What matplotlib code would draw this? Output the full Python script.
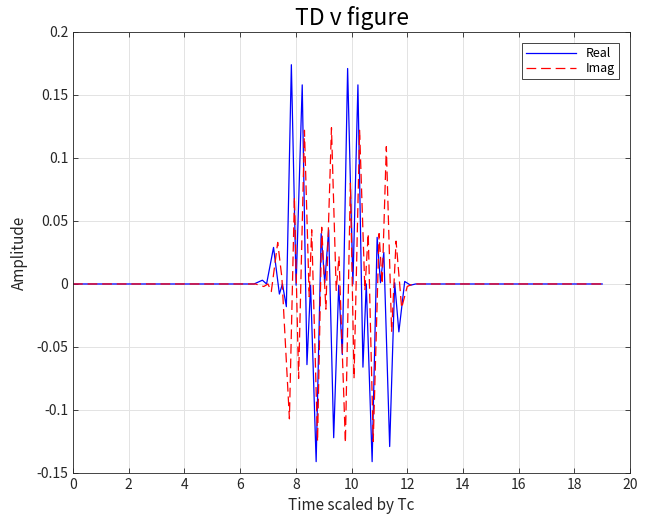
import numpy as np
import matplotlib
matplotlib.use("Agg")
import matplotlib.pyplot as plt
from matplotlib.ticker import FuncFormatter

# values (time in Tc, amplitude)
t_real = [0.0, 6.5, 6.8, 6.95, 7.2, 7.41, 7.52, 7.66, 7.84, 8.01, 8.23, 8.40,
          8.53, 8.73, 8.91, 9.04, 9.18, 9.36, 9.54, 9.67, 9.86, 10.05, 10.23,
          10.41, 10.53, 10.74, 10.92, 11.04, 11.16, 11.37, 11.55, 11.70,
          11.91, 12.12, 12.3, 19.0]
v_real = [0.0, 0.0, 0.003, 0.0, 0.029, -0.008, 0.0, -0.018, 0.174, -0.001,
          0.158, -0.064, -0.001, -0.141, 0.040, 0.001, 0.043, -0.122, -0.001,
          -0.056, 0.171, 0.0, 0.158, -0.066, 0.0, -0.141, 0.037, 0.001, 0.025,
          -0.129, 0.001, -0.038, 0.002, -0.001, 0.0, 0.0]

t_imag = [0.0, 6.55, 6.85, 7.0, 7.12, 7.35, 7.5, 7.77, 7.95, 8.10, 8.31, 8.48,
          8.57, 8.78, 8.93, 9.08, 9.28, 9.45, 9.55, 9.78, 9.96, 10.09, 10.29,
          10.48, 10.6, 10.78, 10.99, 11.1, 11.25, 11.44, 11.6, 11.8, 12.0,
          12.2, 19.0]
v_imag = [0.0, 0.0, -0.002, 0.0, -0.006, 0.033, 0.005, -0.107, 0.069, -0.075,
          0.122, -0.010, 0.043, -0.125, 0.045, -0.020, 0.124, -0.005, 0.022,
          -0.126, 0.080, -0.075, 0.122, -0.005, 0.040, -0.125, 0.040, 0.0,
          0.109, -0.038, 0.034, -0.019, -0.002, 0.0, 0.0]

plt.rcParams['font.family'] = ['Noto Sans CJK JP', 'DejaVu Sans']
plt.rcParams['lines.scale_dashes'] = False

fig = plt.figure(figsize=(6.56, 5.18), dpi=100)
ax = fig.add_axes([0.1113, 0.0869, 0.8491, 0.8514])

ax.plot(t_real, v_real, color=(0, 0, 1), lw=0.9, label='Real')
ax.plot(t_imag, v_imag, color=(1, 0, 0), lw=0.9, ls=(0, (7, 3.5)), label='Imag')

ax.set_xlim(0, 20)
ax.set_ylim(-0.15, 0.2)
ax.set_xticks(np.arange(0, 21, 2))
ax.set_yticks(np.arange(-0.15, 0.201, 0.05))
ax.yaxis.set_major_formatter(FuncFormatter(lambda v, p: '%g' % round(v, 2)))
ax.tick_params(direction='in', top=True, right=True, length=3.5,
               labelsize=10, colors='#262626', width=0.6)
ax.grid(True, color='#e3e3e3', lw=0.7)
ax.set_axisbelow(True)
for s in ax.spines.values():
    s.set_color('#262626')
    s.set_linewidth(0.6)

ax.set_title('TD v figure', fontsize=16.5, color='black', pad=5)
ax.set_xlabel('Time scaled by Tc', fontsize=11, color='#262626', labelpad=4)
ax.set_ylabel('Amplitude', fontsize=11, color='#262626', labelpad=6)

leg = ax.legend(loc='upper right', fontsize=9, fancybox=False, framealpha=1,
                edgecolor='#262626', handlelength=4, borderaxespad=0.9,
                borderpad=0.3, labelspacing=0.2)
leg.get_frame().set_linewidth(0.6)

fig.savefig('out.png', dpi=100, facecolor='white')
